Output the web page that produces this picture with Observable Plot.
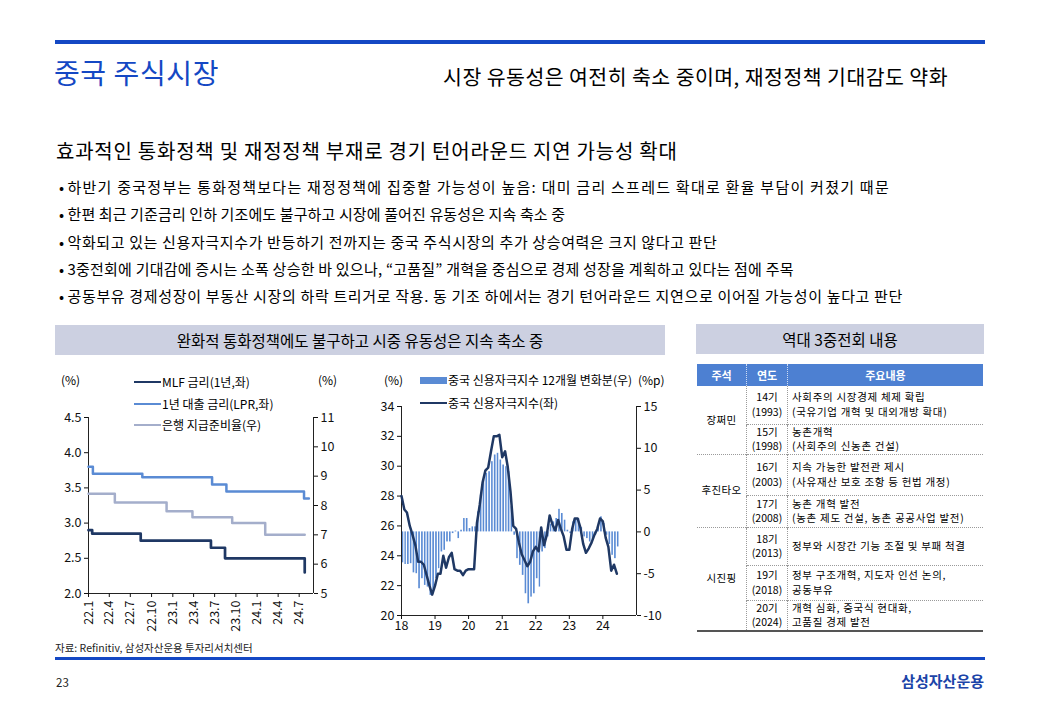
<!DOCTYPE html>
<html><head><meta charset="utf-8">
<script src="https://cdn.jsdelivr.net/npm/d3@7"></script>
<script src="https://cdn.jsdelivr.net/npm/@observablehq/plot@0.6"></script>
<style>
body{margin:0;background:#fff;font-family:"Noto Sans CJK KR","Noto Sans",sans-serif;color:#000;}
#slide{position:relative;width:1040px;height:720px;overflow:hidden;background:#fff;}
.abs{position:absolute;white-space:nowrap;}
.hline{position:absolute;background:#1448c4;}
.box{position:absolute;background:#ccd0e1;display:flex;align-items:center;justify-content:center;font-size:15.5px;}
.leg{position:absolute;font-size:12px;line-height:14px;white-space:nowrap;}
.sw{position:absolute;}
#tbl{position:absolute;left:697px;top:364px;width:286px;border-collapse:collapse;font-size:10.5px;line-height:14.5px;}
#tbl th{background:#4d80d2;color:#fff;font-weight:bold;height:22px;padding:0;border-left:1px dotted #cfdcf3;font-size:11px;}
#tbl th:first-child{border-left:none;}
#tbl td{padding:0;vertical-align:middle;border-top:1px dotted #9a9a9a;border-left:1px dotted #9a9a9a;}
#tbl td.ld{text-align:center;border-left:none;letter-spacing:0.3px;}
#tbl td.yr{text-align:center;}
#tbl td.ct{text-align:left;padding-left:4px;letter-spacing:0.7px;}
#tbl tr.first td{border-top:none;}
#tbl tr.last td{border-bottom:2px solid #555;}
</style></head>
<body><div id="slide"></div>
<script>
// ---------------- data ----------------
const pageTitle = "중국 주식시장";
const headline = "시장 유동성은 여전히 축소 중이며, 재정정책 기대감도 약화";
const subheading = "효과적인 통화정책 및 재정정책 부재로 경기 턴어라운드 지연 가능성 확대";
const bullets = [
  "하반기 중국정부는 통화정책보다는 재정정책에 집중할 가능성이 높음: 대미 금리 스프레드 확대로 환율 부담이 커졌기 때문",
  "한편 최근 기준금리 인하 기조에도 불구하고 시장에 풀어진 유동성은 지속 축소 중",
  "악화되고 있는 신용자극지수가 반등하기 전까지는 중국 주식시장의 추가 상승여력은 크지 않다고 판단",
  "3중전회에 기대감에 증시는 소폭 상승한 바 있으나, “고품질” 개혁을 중심으로 경제 성장을 계획하고 있다는 점에 주목",
  "공동부유 경제성장이 부동산 시장의 하락 트리거로 작용. 동 기조 하에서는 경기 턴어라운드 지연으로 이어질 가능성이 높다고 판단"
];
const chartTitle = "완화적 통화정책에도 불구하고 시중 유동성은 지속 축소 중";
const tableTitle = "역대 3중전회 내용";
const sourceText = "자료: Refinitiv, 삼성자산운용 투자리서치센터";
const pageNo = "23";
const brand = "삼성자산운용";

// Left chart: policy rates (step changes)
const seriesNames = ["MLF 금리(1년,좌)", "1년 대출 금리(LPR,좌)", "은행 지급준비율(우)"];
const mlfDates = ["2022-01-01","2022-01-17","2022-08-15","2023-06-15","2023-08-15","2024-07-25"];
const mlfValues = [2.9, 2.85, 2.75, 2.65, 2.5, 2.3];
const lprDates = ["2022-01-01","2022-01-20","2022-08-22","2023-06-20","2023-08-21","2024-07-22","2024-08-12"];
const lprValues = [3.8, 3.7, 3.65, 3.55, 3.45, 3.35, 3.35];
const rrrDates = ["2022-01-01","2022-04-25","2022-12-05","2023-03-27","2023-09-15","2024-02-05","2024-07-25"];
const rrrValues = [8.4, 8.1, 7.8, 7.6, 7.4, 7.0, 7.0];
const rateTicks = [2.0, 2.5, 3.0, 3.5, 4.0, 4.5];
const rrrTicks = [5, 6, 7, 8, 9, 10, 11];

// Middle chart: China credit impulse (monthly from 2018-01)
const impulseNames = ["중국 신용자극지수 12개월 변화분(우)", "중국 신용자극지수(좌)"];
const impulseStart = "2018-01-01";
const impulse = [
  28.0, 27.1, 26.9, 26.0, 25.4, 24.7, 23.6, 23.6, 23.4, 22.7, 22.0, 21.4,
  22.0, 22.8, 22.8, 24.0, 23.2, 23.9, 24.2, 23.1, 23.0, 23.0, 22.7, 23.0,
  23.1, 23.1, 23.1, 26.2, 27.4, 28.9, 29.7, 29.9, 31.0, 32.0, 32.0, 32.1,
  30.6, 31.0, 30.0, 28.3, 26.0, 25.8, 24.9, 24.1, 23.7, 23.3, 23.6, 24.3,
  24.6, 24.3, 25.9, 24.7, 25.4, 26.7, 26.1, 25.7, 26.4, 25.8, 25.3, 24.4,
  24.4, 25.8, 26.5, 26.5, 25.9, 24.8, 24.2, 24.5, 24.9, 25.4, 25.8, 26.5,
  26.3, 25.2, 24.6, 23.0, 23.4, 22.8
];
const impulseChange = [
  -3.7, -3.9, -3.9, -3.8, -4.9, -5.0, -6.8, -5.6, -6.4, -6.6, -7.6, -7.2,
  -5.6, -4.4, -2.4, -2.2, -1.2, -1.2, -0.2, 0.1, -0.8, 0.2, 1.6, 1.6,
  0.4, 0.6, 0.6, 2.4, 4.4, 6.2, 7.0, 7.2, 8.4, 9.2, 9.4, 8.6,
  8.0, 7.8, 7.2, 3.0, -0.4, -3.2, -4.0, -5.2, -7.4, -8.6, -7.8, -7.4,
  -5.6, -6.6, -2.4, -2.0, -0.6, 0.9, 1.2, 1.6, 2.7, 2.2, 1.4, 0.2,
  -0.2, 1.2, 1.6, 1.6, 0.5, -0.6, -0.8, -1.2, -1.0, -0.4, 0.6, 1.8,
  1.0, -0.4, -1.5, -2.8, -3.2, -1.8
];
const impulseTicks = [20, 22, 24, 26, 28, 30, 32, 34];
const changeTicks = [-10, -5, 0, 5, 10, 15];

// Table
const tableHeader = ["주석", "연도", "주요내용"];
const leaders = ["장쩌민", "후진타오", "시진핑"];
const leaderSpans = [2, 2, 3];
const sessions = ["14기", "15기", "16기", "17기", "18기", "19기", "20기"];
const sessionYears = ["(1993)", "(1998)", "(2003)", "(2008)", "(2013)", "(2018)", "(2024)"];
const contents = [
  ["사회주의 시장경제 체제 확립", "(국유기업 개혁 및 대외개방 확대)"],
  ["농촌개혁", "(사회주의 신농촌 건설)"],
  ["지속 가능한 발전관 제시", "(사유재산 보호 조항 등 헌법 개정)"],
  ["농촌 개혁 발전", "(농촌 제도 건설, 농촌 공공사업 발전)"],
  ["정부와 시장간 기능 조절 및 부패 척결"],
  ["정부 구조개혁, 지도자 인선 논의,", "공동부유"],
  ["개혁 심화, 중국식 현대화,", "고품질 경제 발전"]
];

// ---------------- layout ----------------
const rowHeights = [38, 30, 41, 32, 38, 35, 30];
const bulletSpacing = [1.25, 0.12, 0.63, 0.22, 0.66];
const BLUE = "#1448c4", NAVY = "#1f3864", MID = "#5a8bd4", GREY = "#a4aecb", BAR = "#5a8bd4";
const FONT = '"Noto Sans CJK KR","Noto Sans",sans-serif';
const slide = document.getElementById("slide");
function add(html){ slide.insertAdjacentHTML("beforeend", html); }

add(`<div class="hline" style="left:55px;top:40px;width:930px;height:4px;"></div>`);
add(`<div class="abs" style="left:54px;top:53px;font-size:28px;line-height:38px;color:${BLUE};letter-spacing:0.6px;">${pageTitle}</div>`);
add(`<div class="abs" style="right:92px;top:61px;font-size:20.5px;line-height:30px;letter-spacing:0.45px;">${headline}</div>`);
add(`<div class="abs" style="left:56px;top:136px;font-size:20px;line-height:30px;letter-spacing:0.75px;">${subheading}</div>`);
bullets.forEach((b, i) => {
  add(`<div class="abs" style="left:59px;top:${176 + i * 27.3}px;font-size:15px;line-height:22px;"><span>•</span> <span style="letter-spacing:${bulletSpacing[i]}px;">${b}</span></div>`);
});
add(`<div class="box" style="left:55px;top:325px;width:610px;height:30px;">${chartTitle}</div>`);
add(`<div class="box" style="left:696px;top:324px;width:288px;height:30px;">${tableTitle}</div>`);
add(`<div class="abs" style="left:55px;top:640px;font-size:10.5px;line-height:16px;color:#222;">${sourceText}</div>`);
add(`<div class="hline" style="left:55px;top:657px;width:930px;height:3px;"></div>`);
add(`<div class="abs" style="left:56px;top:674px;font-size:11.5px;line-height:16px;color:#222;">${pageNo}</div>`);
add(`<div class="abs" style="right:56px;top:670px;font-size:15px;line-height:22px;font-weight:bold;color:#1c44a8;">${brand}</div>`);

// ---------------- left chart ----------------
const parse = d3.utcParse("%Y-%m-%d");
const toRate = v => 2 + (v - 5) * 2.5 / 6;
const fromRate = v => 5 + (v - 2) * 6 / 2.5;
const mk = (dates, vals, f = v => v) => dates.map((d, i) => ({date: parse(d), value: f(vals[i])}));
const mlf = mk(mlfDates, mlfValues);
const lpr = mk(lprDates, lprValues);
const rrr = mk(rrrDates, rrrValues, toRate);
const x1Domain = [parse("2022-01-01"), parse("2024-09-01")];
const x1Ticks = d3.utcMonth.every(3).range(parse("2022-01-01"), parse("2024-08-01"));

const chart1 = Plot.plot({
  width: 320, height: 270,
  marginLeft: 38, marginRight: 57, marginTop: 52, marginBottom: 42,
  x: {type: "utc", domain: x1Domain},
  y: {domain: [2, 4.5]},
  style: {fontFamily: FONT, fontSize: "12.5px", color: "#111", background: "transparent", overflow: "visible"},
  marks: [
    Plot.ruleX([x1Domain[0]], {stroke: "#222"}),
    Plot.ruleX([x1Domain[1]], {stroke: "#222"}),
    Plot.ruleY([2], {stroke: "#222"}),
    Plot.axisY({ticks: rateTicks, tickFormat: d => d.toFixed(1), tickSize: 4, tickPadding: 3, label: null}),
    Plot.axisY({anchor: "right", ticks: rrrTicks.map(toRate), tickFormat: d => String(Math.round(fromRate(d))), tickSize: 4, tickPadding: 3, label: null}),
    Plot.axisX({ticks: x1Ticks, tickFormat: d => `${d.getUTCFullYear() % 100}.${d.getUTCMonth() + 1}`, tickRotate: -90, tickSize: 4, tickPadding: 3, label: null}),
    Plot.line(rrr, {x: "date", y: "value", curve: "step-after", stroke: GREY, strokeWidth: 2.5}),
    Plot.line(lpr, {x: "date", y: "value", curve: "step-after", stroke: MID, strokeWidth: 2.5}),
    Plot.line(mlf, {x: "date", y: "value", curve: "step-after", stroke: NAVY, strokeWidth: 2.7})
  ]
});
chart1.style.position = "absolute"; chart1.style.left = "50px"; chart1.style.top = "365px";
slide.appendChild(chart1);

add(`<div class="leg" style="left:61px;top:373px;">(%)</div>`);
add(`<div class="leg" style="left:318px;top:373px;">(%)</div>`);
[[NAVY, 382], [MID, 404], [GREY, 425]].forEach(([c, y], i) => {
  add(`<div class="sw" style="left:134px;top:${y - 1.3}px;width:27px;height:2.6px;background:${c};"></div>`);
  add(`<div class="leg" style="left:162px;top:${y - 7}px;">${seriesNames[i]}</div>`);
});

// ---------------- middle chart ----------------
const toImp = v => 20 + (v + 10) * 14 / 25;
const fromImp = v => (v - 20) * 25 / 14 - 10;
const start = parse(impulseStart);
const impData = impulse.map((v, i) => ({date: d3.utcMonth.offset(start, i), value: v}));
const chgData = impulseChange.map((v, i) => ({date: d3.utcMonth.offset(start, i), value: v}));
const x2Domain = [parse("2018-01-01"), parse("2025-01-01")];

const chart2 = Plot.plot({
  width: 310, height: 270,
  marginLeft: 41, marginRight: 34, marginTop: 41, marginBottom: 20,
  x: {type: "utc", domain: x2Domain},
  y: {domain: [20, 34]},
  style: {fontFamily: FONT, fontSize: "12.5px", color: "#111", background: "transparent", overflow: "visible"},
  marks: [
    Plot.rect(chgData, {x1: "date", x2: d => d3.utcMonth.offset(d.date, 1), y1: () => toImp(0), y2: d => toImp(d.value), fill: BAR, insetLeft: 0.6, insetRight: 0.6}),
    Plot.ruleX([x2Domain[0]], {stroke: "#222"}),
    Plot.ruleX([x2Domain[1]], {stroke: "#222"}),
    Plot.ruleY([20], {stroke: "#222"}),
    Plot.axisY({ticks: impulseTicks, tickSize: 4, tickPadding: 3, label: null}),
    Plot.axisY({anchor: "right", ticks: changeTicks.map(toImp), tickFormat: d => String(Math.round(fromImp(d))), tickSize: 4, tickPadding: 3, label: null}),
    Plot.axisX({ticks: d3.utcYear.range(x2Domain[0], x2Domain[1]), tickFormat: d3.utcFormat("%y"), tickSize: 4, tickPadding: 2, label: null}),
    Plot.line(impData, {x: "date", y: "value", stroke: NAVY, strokeWidth: 2.5})
  ]
});
chart2.style.position = "absolute"; chart2.style.left = "360px"; chart2.style.top = "365px";
slide.appendChild(chart2);

add(`<div class="leg" style="left:384px;top:373px;">(%)</div>`);
add(`<div class="leg" style="left:638px;top:373px;">(%p)</div>`);
add(`<div class="sw" style="left:420px;top:377px;width:27px;height:7px;background:${BAR};"></div>`);
add(`<div class="leg" style="left:448px;top:373px;">${impulseNames[0]}</div>`);
add(`<div class="sw" style="left:420px;top:401.7px;width:27px;height:2.6px;background:${NAVY};"></div>`);
add(`<div class="leg" style="left:448px;top:396px;">${impulseNames[1]}</div>`);

// ---------------- table ----------------
let rows = "";
let li = 0, remaining = 0;
sessions.forEach((s, i) => {
  const cls = i === 0 ? "first" : (i === sessions.length - 1 ? "last" : "");
  let leaderCell = "";
  if (remaining === 0) {
    remaining = leaderSpans[li];
    leaderCell = `<td class="ld" rowspan="${remaining}" style="width:49px;">${leaders[li]}</td>`;
    li++;
  }
  remaining--;
  rows += `<tr class="${cls}" style="height:${rowHeights[i]}px;">${leaderCell}<td class="yr" style="width:40px;">${s}<br>${sessionYears[i]}</td><td class="ct">${contents[i].join("<br>")}</td></tr>`;
});
add(`<table id="tbl"><thead><tr><th style="width:49px;">${tableHeader[0]}</th><th style="width:40px;">${tableHeader[1]}</th><th>${tableHeader[2]}</th></tr></thead><tbody>${rows}</tbody></table>`);
document.querySelectorAll("#tbl td.ld").forEach((td, i) => { if (i === leaders.length - 1) td.style.borderBottom = "2px solid #555"; });
</script>
</body></html>
